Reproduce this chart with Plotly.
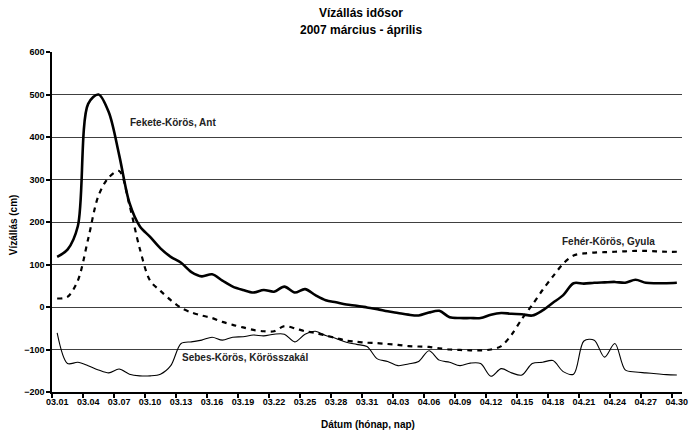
import plotly.graph_objects as go

# ---- data ----
dates = [f"03.{d:02d}" for d in range(1, 32)] + [f"04.{d:02d}" for d in range(1, 31)]
tick_labels = dates[::3]

fekete = [118, 135, 190, 478, 500, 458, 358, 245, 190, 165,
          138, 118, 104, 82, 72, 77, 62, 48, 40, 34,
          40, 36, 48, 34, 42, 28, 16, 11, 6, 3,
          -1, -5, -10, -14, -18, -20, -13, -9, -24, -26,
          -26, -26, -18, -14, -16, -17, -20, -8, 10, 28,
          56, 55, 57, 58, 59, 57, 64, 57, 56, 56, 57]

feher = [20, 24, 62, 160, 262, 305, 320, 240, 137, 62,
         38, 16, -2, -13, -20, -26, -35, -42, -48, -54,
         -57, -57, -45, -50, -57, -61, -67, -73, -79, -82,
         -84, -85, -87, -89, -92, -93, -94, -97, -100, -101,
         -102, -102, -100, -92, -65, -28, 5, 40, 72, 102,
         121, 126, 128, 129, 130, 131, 132, 132, 131, 130, 130]

sebes = [-61, -133, -130, -138, -148, -155, -146, -158, -162, -162,
         -158, -138, -86, -82, -78, -71, -78, -71, -70, -66,
         -68, -64, -64, -82, -64, -57, -67, -74, -83, -88,
         -93, -122, -128, -138, -134, -128, -103, -125, -130, -138,
         -132, -133, -163, -145, -155, -160, -133, -130, -126, -152,
         -158, -80, -78, -118, -86, -148, -153, -155, -157, -159, -160]

series_names = ["Fekete-Körös, Ant", "Fehér-Körös, Gyula", "Sebes-Körös, Körösszakál"]

FONT = "Liberation Sans, Arial, sans-serif"
idx = list(range(len(dates)))

fig = go.Figure()
fig.add_trace(go.Scatter(x=idx, y=fekete, mode="lines", name=series_names[0],
                         line=dict(color="#000000", width=2.6, shape="spline", smoothing=0.9)))
fig.add_trace(go.Scatter(x=idx, y=feher, mode="lines", name=series_names[1],
                         line=dict(color="#000000", width=2.2, dash="5px,5px", shape="spline", smoothing=0.9)))
fig.add_trace(go.Scatter(x=idx, y=sebes, mode="lines", name=series_names[2],
                         line=dict(color="#000000", width=1.1, shape="spline", smoothing=0.9)))

tickfont = dict(family=FONT, size=9, color="#000000", weight="bold")

fig.update_layout(
    width=689, height=432,
    margin=dict(l=52, r=7, t=52, b=40),
    paper_bgcolor="white", plot_bgcolor="white",
    showlegend=False,
    font=dict(family=FONT, color="#000000"),
    xaxis=dict(
        range=[-0.5, len(dates) - 0.5], automargin=False,
        tickmode="array", tickvals=idx[::3], ticktext=tick_labels,
        ticks="", tickfont=tickfont,
        showgrid=False, zeroline=False,
        showline=True, linecolor="#000000", linewidth=1.5,
        minor=dict(tickmode="array",
                   tickvals=[i - 0.5 for i in idx[::3]],
                   ticks="outside", ticklen=4, tickcolor="#000000", tickwidth=1.5, showgrid=False),
    ),
    yaxis=dict(
        range=[-200, 600], tickmode="linear", tick0=-200, dtick=100, automargin=False,
        ticks="outside", ticklen=4, tickcolor="#000000", tickwidth=1.5,
        tickfont=tickfont,
        showgrid=True, gridcolor="#404040", gridwidth=1,
        zeroline=False,
        showline=True, linecolor="#000000", linewidth=1.5,
    ),
)

ann_font = dict(family=FONT, size=10, color="#222222")
fig.add_annotation(x=6.9, y=433, xref="x", yref="y", text="<b>" + series_names[0] + "</b>",
                   showarrow=False, xanchor="left", yanchor="middle", font=ann_font)
fig.add_annotation(x=48.7, y=155, xref="x", yref="y", text="<b>" + series_names[1] + "</b>",
                   showarrow=False, xanchor="left", yanchor="middle", font=ann_font)
fig.add_annotation(x=11.9, y=-118, xref="x", yref="y", text="<b>" + series_names[2] + "</b>",
                   showarrow=False, xanchor="left", yanchor="middle", font=ann_font)

# titles
title_font = dict(family=FONT, size=12, color="#000000")
fig.add_annotation(x=0.4905, y=1.1147, xref="paper", yref="paper", text="<b>Vízállás idősor</b>",
                   showarrow=False, xanchor="center", yanchor="middle", font=title_font)
fig.add_annotation(x=0.4905, y=1.0647, xref="paper", yref="paper", text="<b>2007 március - április</b>",
                   showarrow=False, xanchor="center", yanchor="middle", font=title_font)
fig.add_annotation(x=-0.0617, y=0.491, xref="paper", yref="paper", text="<b>Vízállás (cm)</b>",
                   showarrow=False, textangle=-90, xanchor="center", yanchor="middle",
                   font=dict(family=FONT, size=10, color="#000000"))
fig.add_annotation(x=0.5016, y=-0.097, xref="paper", yref="paper", text="<b>Dátum (hónap, nap)</b>",
                   showarrow=False, xanchor="center", yanchor="middle",
                   font=dict(family=FONT, size=10, color="#000000"))

fig.write_html("out.html", config={"displayModeBar": False},
               post_script="document.body.style.margin='0';document.body.style.overflow='hidden';")
